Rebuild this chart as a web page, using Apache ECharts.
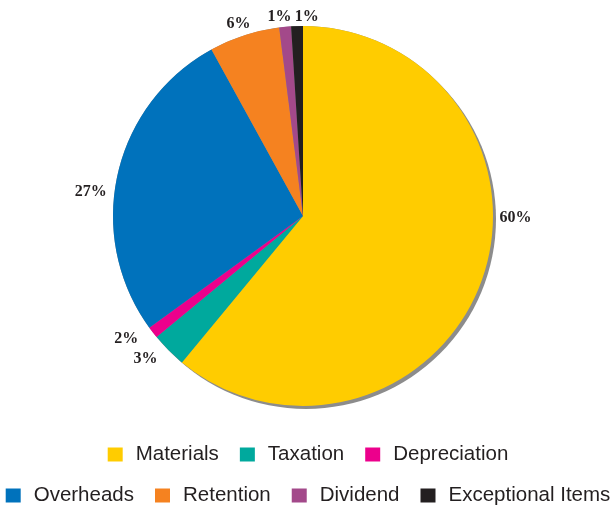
<!DOCTYPE html>
<html>
<head>
<meta charset="utf-8">
<script src="https://cdn.jsdelivr.net/npm/echarts@6/dist/echarts.min.js"></script>
<style>
html,body{margin:0;padding:0;background:#fff;}
#chart{width:616px;height:507px;}
</style>
</head>
<body>
<div id="chart"></div>
<script>
// ---- data ----
const categories = ['Materials', 'Taxation', 'Depreciation', 'Overheads', 'Retention', 'Dividend', 'Exceptional Items'];
const values = [61, 3, 1, 27, 6, 1, 1];
const labelTexts = ['60%', '3%', '2%', '27%', '6%', '1%', '1%'];
const legendRow1 = ['Materials', 'Taxation', 'Depreciation'];
const legendRow2 = ['Overheads', 'Retention', 'Dividend', 'Exceptional Items'];

// ---- style ----
const colors = ['#FFCC00', '#00A99D', '#EC008C', '#0072BC', '#F58220', '#A3498A', '#231F20'];
const CENTER = [303, 216];
const RADIUS = 190;
// hand placement nudges of the value labels (as in the reference artwork)
const labelNudge = [[7, -65], [-2, 4], [-5, 3], [0, 19], [13, -6], [12, -4], [27, -3]];

const chart = echarts.init(document.getElementById('chart'), null, {renderer: 'canvas'});

const legendCommon = {
  icon: 'rect',
  itemWidth: 15,
  itemHeight: 14,
  itemGap: 21,
  left: 'center',
  selectedMode: false,
  textStyle: {
    fontFamily: 'Liberation Sans, Arial, sans-serif',
    fontSize: 20.5,
    color: '#231F20',
    padding: [0, 0, 0, 8]
  }
};

const option = {
  backgroundColor: '#fff',
  animation: false,
  color: colors,
  legend: [
    Object.assign({}, legendCommon, {data: legendRow1, top: 439}),
    Object.assign({}, legendCommon, {data: legendRow2, top: 480})
  ],
  series: [
    {
      // shadow disc behind the pie
      type: 'pie',
      silent: true,
      center: CENTER,
      radius: RADIUS,
      label: {show: false},
      labelLine: {show: false},
      legendHoverLink: false,
      itemStyle: {
        color: '#8c8c8c',
        shadowColor: '#8c8c8c',
        shadowOffsetX: 3,
        shadowOffsetY: 3,
        shadowBlur: 0
      },
      data: [{value: 1, name: '__shadow'}],
      z: 1
    },
    {
      type: 'pie',
      center: CENTER,
      radius: RADIUS,
      startAngle: 90,
      clockwise: true,
      avoidLabelOverlap: false,
      z: 2,
      itemStyle: {borderWidth: 0},
      label: {
        show: true,
        position: 'outside',
        fontFamily: 'Liberation Serif, Times New Roman, serif',
        fontWeight: 'bold',
        fontSize: 16,
        color: '#231F20',
        formatter: p => labelTexts[p.dataIndex]
      },
      labelLine: {show: false, length: 6, length2: 0},
      labelLayout: p => ({
        dx: labelNudge[p.dataIndex][0],
        dy: labelNudge[p.dataIndex][1],
        hideOverlap: false,
        moveOverlap: null
      }),
      data: categories.map((c, i) => ({name: c, value: values[i]}))
    }
  ]
};
chart.setOption(option);
</script>
</body>
</html>
